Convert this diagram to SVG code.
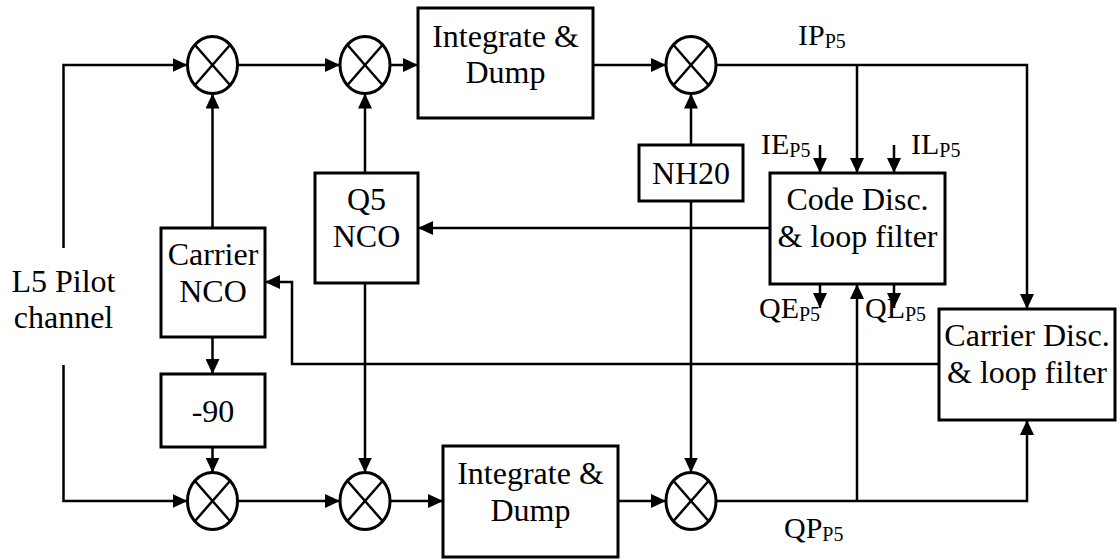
<svg xmlns="http://www.w3.org/2000/svg" width="1120" height="560" viewBox="0 0 1120 560">
<style>
.box{fill:#fff;stroke:#000;stroke-width:3}
.mul{fill:#fff;stroke:#000;stroke-width:3}
.x{stroke:#000;stroke-width:2.5}
.c{fill:none;stroke:#000;stroke-width:2.5;marker-end:url(#ah)}
.t{font-family:"Liberation Serif","Times New Roman",serif;font-size:32px;fill:#000;text-anchor:middle}
.l{font-family:"Liberation Serif","Times New Roman",serif;font-size:30px;fill:#000}
.s{font-size:20px}
</style>
<defs>
<marker id="ah" markerUnits="userSpaceOnUse" markerWidth="16" markerHeight="14" refX="15" refY="7" orient="auto">
<path d="M0,0 L15,7 L0,14 Z" fill="#000"/>
</marker>
<g id="m"><ellipse class="mul" cx="0" cy="0" rx="25" ry="28.5"/><line class="x" x1="-17.7" y1="-20.2" x2="17.7" y2="20.2"/><line class="x" x1="17.7" y1="-20.2" x2="-17.7" y2="20.2"/></g>
</defs>
<rect width="1120" height="560" fill="#fff"/>
<g id="connectors">
<path class="c" d="M63.5,248 V65 H187.5"/>
<path class="c" d="M63.5,365 V501 H187.5"/>
<path class="c" d="M237.5,65 H340"/>
<path class="c" d="M390,65 H418"/>
<path class="c" d="M593,65 H666"/>
<path class="c" d="M716,65 H1027 V309"/>
<path class="c" d="M857,65 V173"/>
<path class="c" d="M820,145 V173"/>
<path class="c" d="M894,145 V173"/>
<path class="c" d="M212.5,228 V93.5"/>
<path class="c" d="M365,173 V93.5"/>
<path class="c" d="M691,145 V93.5"/>
<path class="c" d="M770,228 H418"/>
<path class="c" d="M939,364 H292 V282 H265"/>
<path class="c" d="M212.5,337 V374"/>
<path class="c" d="M212.5,447 V472.5"/>
<path class="c" d="M365,283 V472.5"/>
<path class="c" d="M691,201 V472.5"/>
<path class="c" d="M237.5,501 H340"/>
<path class="c" d="M390,501 H443"/>
<path class="c" d="M618,501 H666"/>
<path class="c" d="M716,501 H1027 V420"/>
<path class="c" d="M857,501 V284"/>
<path class="c" d="M820,284 V308"/>
<path class="c" d="M894,284 V308"/>
</g>
<g id="mult1"><use href="#m" x="212.5" y="65"/></g>
<g id="mult2"><use href="#m" x="365" y="65"/></g>
<g id="mult3"><use href="#m" x="691" y="65"/></g>
<g id="mult4"><use href="#m" x="212.5" y="501"/></g>
<g id="mult5"><use href="#m" x="365" y="501"/></g>
<g id="mult6"><use href="#m" x="691" y="501"/></g>
<g id="intdump1"><rect class="box" x="418" y="8" width="175" height="110"/><text class="t" x="505.5" y="47">Integrate &amp;</text><text class="t" x="505.5" y="83">Dump</text></g>
<g id="intdump2"><rect class="box" x="443" y="446" width="175" height="111"/><text class="t" x="530.5" y="484">Integrate &amp;</text><text class="t" x="530.5" y="521">Dump</text></g>
<g id="carriernco"><rect class="box" x="161" y="228" width="104" height="109"/><text class="t" x="213" y="265">Carrier</text><text class="t" x="213" y="302">NCO</text></g>
<g id="phase"><rect class="box" x="161" y="374" width="104" height="73"/><text class="t" x="213" y="422">-90</text></g>
<g id="q5nco"><rect class="box" x="315" y="173" width="103" height="110"/><text class="t" x="366.5" y="210">Q5</text><text class="t" x="366.5" y="247">NCO</text></g>
<g id="nh20"><rect class="box" x="639" y="145" width="104" height="56"/><text class="t" x="691" y="184">NH20</text></g>
<g id="codedisc"><rect class="box" x="770" y="173" width="175" height="111"/><text class="t" x="857.5" y="210">Code Disc.</text><text class="t" x="857.5" y="247">&amp; loop filter</text></g>
<g id="carrierdisc"><rect class="box" x="939" y="309" width="176" height="111"/><text class="t" x="1027" y="346">Carrier Disc.</text><text class="t" x="1027" y="383">&amp; loop filter</text></g>
<g id="input"><text class="t" x="63.5" y="292">L5 Pilot</text><text class="t" x="63.5" y="328">channel</text></g>
<g id="labels">
<text class="l" x="798" y="45">IP<tspan class="s" dy="3">P5</tspan></text>
<text class="l" x="761" y="154">IE<tspan class="s" dy="3">P5</tspan></text>
<text class="l" x="911" y="154">IL<tspan class="s" dy="3">P5</tspan></text>
<text class="l" x="759" y="318">QE<tspan class="s" dy="3">P5</tspan></text>
<text class="l" x="865" y="318">QL<tspan class="s" dy="3">P5</tspan></text>
<text class="l" x="784" y="538">QP<tspan class="s" dy="3">P5</tspan></text>
</g>
</svg>
